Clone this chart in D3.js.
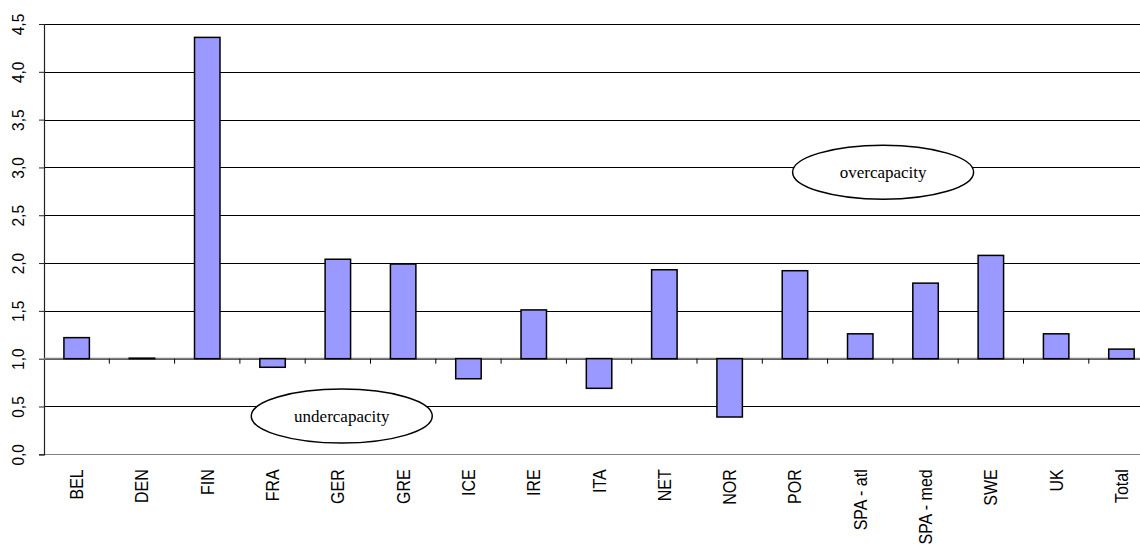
<!DOCTYPE html>
<html>
<head>
<meta charset="utf-8">
<script src="https://cdn.jsdelivr.net/npm/d3@7"></script>
<style>
  body { margin: 0; background: #fff; }
  svg { display: block; }
</style>
</head>
<body>
<div id="chart"></div>
<script>
// ===== Data =====
let categories = ["BEL", "DEN", "FIN", "FRA", "GER", "GRE", "ICE", "IRE", "ITA",
                  "NET", "NOR", "POR", "SPA - atl", "SPA - med", "SWE", "UK", "Total"];
let values = [1.22, 1.005, 4.36, 0.91, 2.04, 1.99, 0.79, 1.51, 0.69,
              1.93, 0.39, 1.92, 1.26, 1.79, 2.08, 1.26, 1.10];
let yTicks = [0, 0.5, 1, 1.5, 2, 2.5, 3, 3.5, 4, 4.5];
let baseValue = 1.0;

// annotation positions in (band units, value units)
let noteLabels = ["undercapacity", "overcapacity"];
let noteBands = [4.56, 12.85];
let noteValues = [0.40, 2.95];

let formatValue = d3.format(".1f");
let comma = d => formatValue(d).replace(".", ",");

let margin = {top: 24, right: 0, bottom: 96, left: 44},
    step = 65.3,
    width = step * categories.length,
    height = 430.3;

let svg = d3.select("#chart").append("svg")
    .attr("width", 1140)
    .attr("height", 550);

let g = svg.append("g")
    .attr("transform", "translate(" + margin.left + "," + margin.top + ")");

let x = d3.scaleBand().domain(categories).range([0, width])
    .paddingInner(0.61).paddingOuter(0.305),
    y = d3.scaleLinear().domain([0, 4.5]).range([height, 0]);

// ===== Gridlines =====
g.append("g")
    .attr("class", "grid")
  .selectAll("line")
  .data(yTicks)
  .enter().append("line")
    .attr("x1", 0)
    .attr("x2", width)
    .attr("y1", d => Math.round(y(d)) + 0.5)
    .attr("y2", d => Math.round(y(d)) + 0.5)
    .attr("stroke", d => d === 0 ? "#808080" : "#000")
    .attr("stroke-width", 1);

// ===== Y axis =====
let yAxis = d3.axisLeft(y).tickValues(yTicks).tickSize(5).tickFormat(comma);

let yG = g.append("g")
    .attr("class", "axis axis--y")
    .call(yAxis);

yG.select(".domain").attr("stroke", "#222").attr("stroke-width", 1.2);
yG.selectAll(".tick line").attr("stroke", "#222");
yG.selectAll(".tick text")
    .attr("transform", "rotate(-90) scale(1,1.12)")
    .attr("x", 0)
    .attr("y", -17.5)
    .attr("dy", 0)
    .attr("text-anchor", "middle")
    .style("font-family", "'Liberation Sans', Arial, sans-serif")
    .style("font-size", "15.5px")
    .attr("fill", "#000");

// ===== Category axis at 1,0 =====
let catG = g.append("g")
    .attr("class", "axis axis--x")
    .attr("transform", "translate(0," + y(baseValue) + ")");

catG.append("line")
    .attr("x1", 0)
    .attr("x2", width)
    .attr("stroke", "#808080")
    .attr("stroke-width", 2);

catG.selectAll(".tick-mark")
  .data(categories.slice(1))
  .enter().append("line")
    .attr("class", "tick-mark")
    .attr("x1", d => x(d) - x.step() * x.paddingInner() / 2)
    .attr("x2", d => x(d) - x.step() * x.paddingInner() / 2)
    .attr("y1", 0)
    .attr("y2", 5)
    .attr("stroke", "#000");

// ===== Bars =====
g.selectAll(".bar")
  .data(categories)
  .enter().append("rect")
    .attr("class", "bar")
    .attr("x", d => x(d))
    .attr("width", x.bandwidth())
    .attr("y", (d, i) => y(Math.max(values[i], baseValue)))
    .attr("height", (d, i) => Math.abs(y(values[i]) - y(baseValue)))
    .attr("fill", "#9999ff")
    .attr("stroke", "#000")
    .attr("stroke-width", 1.5);

// ===== Category labels =====
g.selectAll(".cat-label")
  .data(categories)
  .enter().append("text")
    .attr("class", "cat-label")
    .attr("transform", d => "translate(" + (x(d) + x.bandwidth() / 2) + "," + (height + 15) + ") rotate(-90) scale(1,1.12)")
    .attr("dy", "0.36em")
    .attr("text-anchor", "end")
    .style("font-family", "'Liberation Sans', Arial, sans-serif")
    .style("font-size", "16px")
    .attr("fill", "#000")
    .text(d => d);

// ===== Annotations =====
let notes = g.selectAll(".note")
  .data(noteLabels)
  .enter().append("g")
    .attr("class", "note")
    .attr("transform", (d, i) => "translate(" + (noteBands[i] * x.step()) + "," + y(noteValues[i]) + ")");

notes.append("ellipse")
    .attr("rx", 90.5)
    .attr("ry", 27)
    .attr("fill", "#fff")
    .attr("stroke", "#000")
    .attr("stroke-width", 1.5);

notes.append("text")
    .attr("text-anchor", "middle")
    .attr("dy", "0.33em")
    .style("font-family", "'Liberation Serif', 'Times New Roman', serif")
    .style("font-size", "17px")
    .attr("fill", "#000")
    .text(d => d);
</script>
</body>
</html>
